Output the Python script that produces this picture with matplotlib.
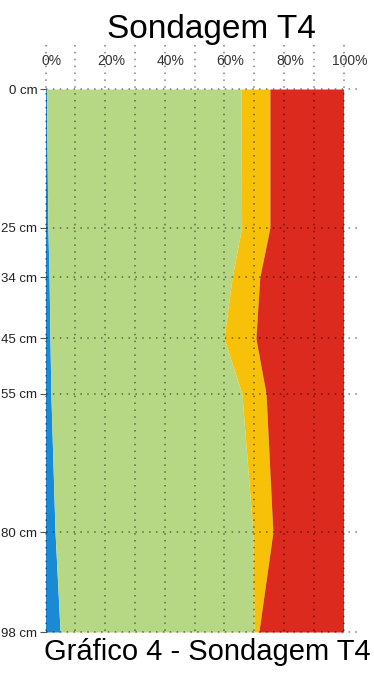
import numpy as np
import matplotlib.pyplot as plt
from matplotlib.transforms import ScaledTranslation

plt.rcParams['font.family'] = ['Liberation Sans', 'DejaVu Sans']

# profundidade (cm) e percentuais de cada camada
profundidade = [0, 25, 34, 45, 55, 80, 98]
azul = [0.3, 0.8, 1.2, 1.5, 1.8, 3.2, 4.9]
verde = [65.3, 65.0, 61.4, 58.4, 64.1, 66.4, 65.1]
amarelo = [9.7, 9.5, 9.3, 10.7, 8.1, 6.7, 1.6]
vermelho = [24.7, 24.7, 28.1, 29.4, 26.0, 23.7, 28.4]

cores = ['#1a8ad4', '#b6d884', '#f7c10a', '#dc2a1f']
x_ticks = [0, 20, 40, 60, 80, 100]
x_labels = ['0%', '20%', '40%', '60%', '80%', '100%']
y_labels = [f'{p} cm' for p in profundidade]

fig = plt.figure(figsize=(3.74, 6.75), dpi=100)
ax = fig.add_axes([45.5 / 374, 1 - 632 / 675, 298 / 374, 543 / 675])

base = np.zeros(len(profundidade))
for serie, cor in zip([azul, verde, amarelo, vermelho], cores):
    topo = base + np.array(serie)
    ax.fill_betweenx(profundidade, base, topo, color=cor, linewidth=0)
    base = topo

ax.set_xlim(0, 100)
ax.set_ylim(98, 0)

# grade pontilhada que passa um pouco das bordas
estilo = dict(color='black', alpha=0.5, linestyle=(0, (1, 3.5)), linewidth=1.1,
              clip_on=False, zorder=3)
for x in range(0, 101, 10):
    ax.plot([x, x], [-8, 98], **estilo)
for y in profundidade:
    ax.plot([0, 104.5], [y, y], **estilo)

for s in ax.spines.values():
    s.set_visible(False)

ax.xaxis.tick_top()
ax.set_xticks(x_ticks)
ax.set_xticklabels(x_labels, fontsize=10, color='#333333')
ax.tick_params(axis='x', length=0, pad=15)
desloc = ScaledTranslation(6 / 100, 0, fig.dpi_scale_trans)
for lab in ax.get_xticklabels():
    lab.set_transform(lab.get_transform() + desloc)

ax.set_yticks(profundidade)
ax.set_yticklabels(y_labels, fontsize=9.5, color='#222222')
ax.tick_params(axis='y', length=4, width=0.8, color='#555555', pad=2)

fig.text(0.565, 0.957, 'Sondagem T4', ha='center', va='center', fontsize=24)
fig.text(0.555, 0.034, 'Gráfico 4 - Sondagem T4', ha='center', va='center',
         fontsize=21)

fig.savefig('out.png', dpi=100)
